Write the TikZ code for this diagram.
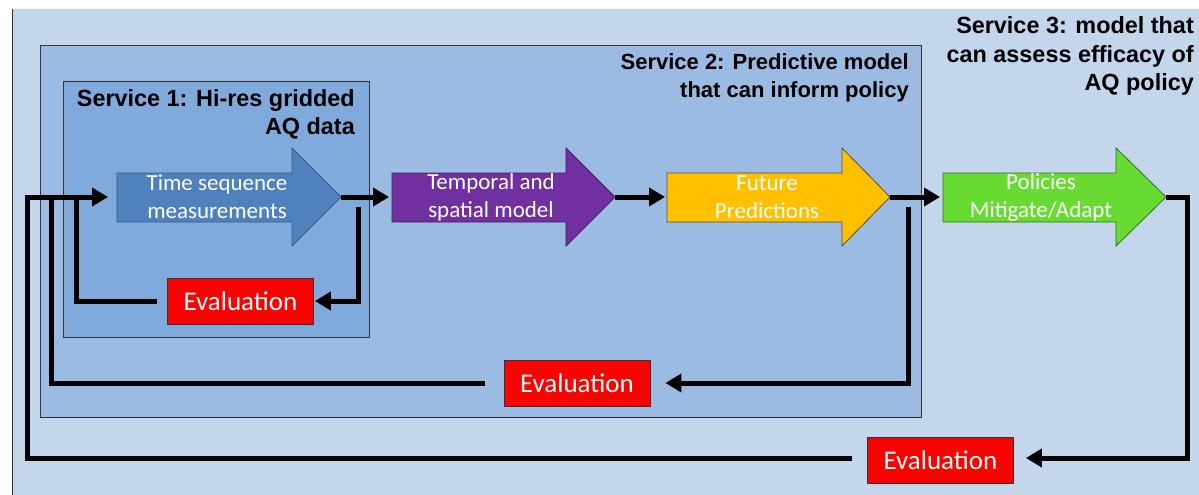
\documentclass[tikz,border=0pt]{standalone}
\usepackage{fontspec}
\setmainfont{Liberation Sans}
\newfontfamily\carl{Carlito}
\usetikzlibrary{arrows.meta}
\definecolor{bgc}{HTML}{C3D6EC}
\definecolor{svtwo}{HTML}{9BBBE3}
\definecolor{svone}{HTML}{80AADC}
\definecolor{tsc}{HTML}{4F81BD}
\definecolor{tpc}{HTML}{7030A0}
\definecolor{fpc}{HTML}{FFC000}
\definecolor{plc}{HTML}{68DB33}
\definecolor{evc}{HTML}{FF0000}
\begin{document}
\begin{tikzpicture}[x=1pt,y=-1pt,
  conn/.style={line width=5pt, line join=miter, black},
  arr/.style={conn, -{Triangle[length=16pt,width=18pt]}},
  svlabel/.style={font=\bfseries\fontsize{23.4}{28.5}\selectfont, align=right, anchor=east, inner sep=0pt},
  blocktext/.style={font=\carl\fontsize{23}{28}\selectfont, text=white, align=center, inner sep=0pt},
  evalbox/.style={fill=evc, draw=black!80, line width=0.8pt, minimum width=146pt, minimum height=46pt, inner sep=0pt, font=\carl\fontsize{27}{28}\selectfont, text=white},
  svbox/.style={draw=black!80, line width=0.8pt}
]
\useasboundingbox (0,0) rectangle (1199,495);
\fill[white] (0,0) rectangle (1199,495);
\fill[bgc] (12,9) rectangle (1199,495);
\draw[black!80, line width=0.8pt] (12,9) -- (12,495);
% service boxes
\filldraw[svbox, fill=svtwo] (40,45) rectangle (921,417);
\filldraw[svbox, fill=svone] (63,81) rectangle (369,337);
% service labels
\node[svlabel] (s1) at (355,114.5) {Service 1: Hi-res gridded\\AQ data};
\node[svlabel, font=\bfseries\fontsize{22}{28}\selectfont] (s2) at (909,78) {Service 2: Predictive model\\that can inform policy};
\node[svlabel] (s3) at (1194,56) {Service 3: model that\\can assess efficacy of\\AQ policy};
% block arrows
\filldraw[fill=tsc, draw=tsc!70!black, line width=0.8pt] (117,173) -- (292,173) -- (292,148) -- (341,197) -- (292,246) -- (292,222) -- (117,222) -- cycle;
\filldraw[fill=tpc, draw=tpc!60!black, line width=0.8pt] (392,173) -- (566,173) -- (566,148) -- (615,197) -- (566,246) -- (566,222) -- (392,222) -- cycle;
\filldraw[fill=fpc, draw=black!70, line width=0.8pt] (667,173) -- (842,173) -- (842,148) -- (890,197) -- (842,246) -- (842,222) -- (667,222) -- cycle;
\filldraw[fill=plc, draw=plc!50!black, line width=0.8pt] (943,173) -- (1116,173) -- (1116,148) -- (1166,197) -- (1116,246) -- (1116,222) -- (943,222) -- cycle;
\node[blocktext] (ts) at (217,197) {Time sequence\\measurements};
\node[blocktext] (tp) at (491,197) {Temporal and\\spatial model};
\node[blocktext] (fp) at (767,197) {Future\\Predictions};
\node[blocktext] (pl) at (1041,197) {Policies\\Mitigate/Adapt};
\coordinate (tsIn) at (117,197);
\coordinate (tsTip) at (341,197);
\coordinate (tpIn) at (392,197);
\coordinate (tpTip) at (615,197);
\coordinate (fpIn) at (667,197);
\coordinate (fpTip) at (890,197);
\coordinate (plIn) at (943,197);
\coordinate (plTip) at (1166,197);
% evaluation boxes
\node[evalbox] (ev1) at (240.5,301) {Evaluation};
\node[evalbox] (ev2) at (577,383) {Evaluation};
\node[evalbox] (ev3) at (940.5,460) {Evaluation};
% forward connectors
\coordinate (start) at (24.5,197);
\draw[arr, shorten >=9pt] (start) -- (tsIn);
\draw[arr, shorten >=3pt] (tsTip) -- (tpIn);
\draw[arr, shorten >=2pt] (tpTip) -- (fpIn);
\draw[arr, shorten >=3pt] (fpTip) -- (plIn);
% inner loop
\coordinate (l1a) at (358,207);
\coordinate (l1b) at (76,197);
\draw[arr, shorten >=1pt] (l1a) |- (ev1.east);
\draw[conn, shorten <=10pt] (ev1.west) -| (l1b);
% middle loop
\coordinate (l2a) at (908,207);
\coordinate (l2b) at (51,197);
\draw[arr, shorten >=15pt] (l2a) |- (ev2.east);
\draw[conn, shorten <=19pt] (ev2.west) -| (l2b);
% outer loop
\coordinate (l3a) at (1187,458);
\coordinate (l3b) at (27,197);
\draw[arr, shorten >=12pt] (plTip) -| (l3a) -- (ev3.east |- l3a);
\draw[conn, shorten <=15pt] (ev3.west |- l3a) -| (l3b);
\end{tikzpicture}
\end{document}
